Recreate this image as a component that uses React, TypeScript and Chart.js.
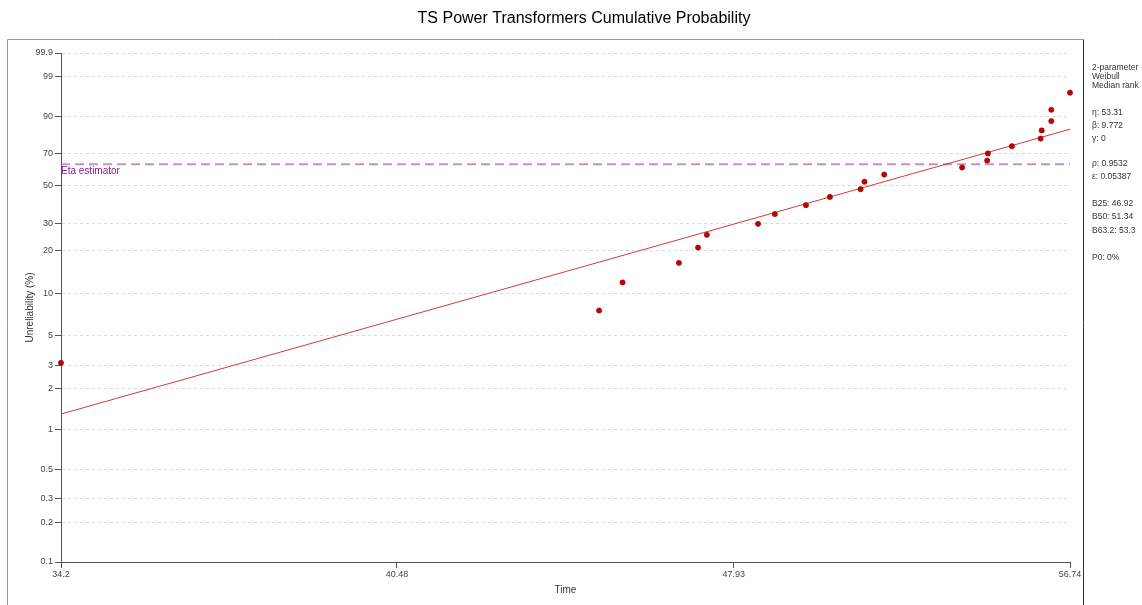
import React, { useEffect, useRef } from "react";
import { Chart, registerables } from "chart.js";

Chart.register(...registerables);

// Failure times (sorted) and their median-rank unreliability (%)
const times = [
  34.2, 44.8, 45.33, 46.63, 47.08, 47.29, 48.52, 48.93, 49.7, 50.3, 51.08,
  51.18, 51.69, 53.75, 54.43, 54.45, 55.11, 55.91, 55.94, 56.21, 56.21, 56.74,
];
const unreliabilityPct = [
  3.13, 7.59, 12.05, 16.52, 20.98, 25.45, 29.91, 34.38, 38.84, 43.3, 47.77,
  52.23, 56.7, 61.16, 65.63, 70.09, 74.55, 79.02, 83.48, 87.95, 92.41, 96.88,
];

// Axis ticks
const yTickPct = [0.1, 0.2, 0.3, 0.5, 1, 2, 3, 5, 10, 20, 30, 50, 70, 90, 99, 99.9];
const xTickValues = [34.2, 40.48, 47.93, 56.74];
const xTickLabels = ["34.2", "40.48", "47.93", "56.74"];

// Fit parameters (2-parameter Weibull)
const eta = 53.31;
const beta = 9.772;
const etaEstimatorPct = 63.2;

const infoLines = [
  { text: "2-parameter", y: 68 },
  { text: "Weibull", y: 77 },
  { text: "Median rank", y: 86 },
  { text: "η: 53.31", y: 113 },
  { text: "β: 9.772", y: 126 },
  { text: "γ: 0", y: 139 },
  { text: "ρ: 0.9532", y: 164 },
  { text: "ε: 0.05387", y: 177 },
  { text: "B25: 46.92", y: 204 },
  { text: "B50: 51.34", y: 217 },
  { text: "B63.2: 53.3", y: 231 },
  { text: "P0: 0%", y: 258 },
];

const FONT = "'Liberation Sans', Arial, sans-serif";

// Weibull probability-paper transform: ln(-ln(1 - F))
const weib = (pct: number) => Math.log(-Math.log(1 - pct / 100));
const fitW = (t: number) => beta * Math.log(t / eta);

const overlay = {
  id: "overlay",
  afterDraw(chart: Chart) {
    const { ctx, chartArea } = chart;
    ctx.save();

    // outer frame
    ctx.strokeStyle = "#9a9a9a";
    ctx.lineWidth = 1;
    ctx.beginPath();
    ctx.moveTo(7.5, 700);
    ctx.lineTo(7.5, 39.5);
    ctx.lineTo(1083.5, 39.5);
    ctx.stroke();
    ctx.strokeStyle = "#333";
    ctx.beginPath();
    ctx.moveTo(1083.5, 39.5);
    ctx.lineTo(1083.5, 700);
    ctx.stroke();

    // title
    ctx.fillStyle = "#000";
    ctx.font = `16px ${FONT}`;
    ctx.textAlign = "center";
    ctx.textBaseline = "alphabetic";
    ctx.fillText("TS Power Transformers Cumulative Probability", 584, 23);

    // axis titles
    ctx.fillStyle = "#333";
    ctx.font = `10px ${FONT}`;
    ctx.fillText("Time", (chartArea.left + chartArea.right) / 2, 593);
    ctx.save();
    ctx.translate(30, (chartArea.top + chartArea.bottom) / 2);
    ctx.rotate(-Math.PI / 2);
    ctx.textBaseline = "middle";
    ctx.fillText("Unreliability (%)", 0, 0);
    ctx.restore();

    // eta estimator label
    const yScale = chart.scales.y;
    const yEta = yScale.getPixelForValue(weib(etaEstimatorPct));
    ctx.fillStyle = "#8a1a8a";
    ctx.font = `10px ${FONT}`;
    ctx.textAlign = "left";
    ctx.textBaseline = "top";
    ctx.fillText("Eta estimator", chartArea.left, yEta + 2);

    // parameter block
    ctx.fillStyle = "#333";
    ctx.font = `8.5px ${FONT}`;
    ctx.textBaseline = "middle";
    infoLines.forEach((l) => ctx.fillText(l.text, 1092, l.y));

    ctx.restore();
  },
};

export default function App() {
  const ref = useRef<HTMLCanvasElement | null>(null);

  useEffect(() => {
    if (!ref.current) return;
    const xMin = xTickValues[0];
    const xMax = xTickValues[xTickValues.length - 1];

    const chart = new Chart(ref.current, {
      type: "scatter",
      data: {
        datasets: [
          {
            type: "line",
            label: "Eta estimator",
            data: [
              { x: xMin, y: weib(etaEstimatorPct) },
              { x: xMax, y: weib(etaEstimatorPct) },
            ],
            borderColor: "rgba(175, 100, 180, 0.7)",
            borderWidth: 2,
            borderDash: [9, 5],
            pointRadius: 0,
            order: 3,
          },
          {
            type: "line",
            label: "Fit",
            data: [
              { x: xMin, y: fitW(xMin) },
              { x: xMax, y: fitW(xMax) },
            ],
            borderColor: "#d23a3a",
            borderWidth: 1,
            pointRadius: 0,
            order: 2,
          },
          {
            label: "Data",
            data: times.map((t, i) => ({ x: t, y: weib(unreliabilityPct[i]) })),
            pointRadius: 2.6,
            pointBackgroundColor: "#c40000",
            pointBorderColor: "#7a0000",
            pointBorderWidth: 0.6,
            order: 1,
          },
        ],
      },
      options: {
        animation: false,
        responsive: false,
        devicePixelRatio: 1,
        clip: false,
        layout: { padding: { left: 0, top: 53, right: 72, bottom: 0 } },
        plugins: {
          legend: { display: false },
          title: { display: false },
          tooltip: { enabled: false },
        },
        scales: {
          x: {
            type: "logarithmic",
            min: xMin,
            max: xMax,
            afterBuildTicks: (scale: any) => {
              scale.ticks = xTickValues.map((v) => ({ value: v }));
            },
            afterFit: (scale: any) => {
              scale.height = 43;
            },
            ticks: {
              autoSkip: false,
              maxRotation: 0,
              padding: 1,
              color: "#444",
              font: { size: 9, family: FONT },
              callback: (_v: any, i: number) => xTickLabels[i],
            },
            grid: {
              drawOnChartArea: false,
              drawTicks: true,
              tickLength: 6,
              tickColor: "#555",
              tickWidth: 1,
            },
            border: { display: true, color: "#555", width: 1 },
          },
          y: {
            type: "linear",
            min: weib(0.1),
            max: weib(99.9),
            afterBuildTicks: (scale: any) => {
              scale.ticks = yTickPct.map((p) => ({ value: weib(p) }));
            },
            afterFit: (scale: any) => {
              scale.width = 61;
            },
            ticks: {
              autoSkip: false,
              padding: 2,
              color: "#444",
              font: { size: 9, family: FONT },
              callback: (_v: any, i: number) => String(yTickPct[i]),
            },
            grid: {
              drawOnChartArea: true,
              drawTicks: true,
              tickLength: 6,
              color: "#d9d9d9",
              lineWidth: 1,
              tickColor: "#555",
              tickWidth: 1,
            },
            border: { display: true, color: "#555", width: 1, dash: [3, 3] },
          },
        },
      },
      plugins: [overlay],
    } as any);

    return () => chart.destroy();
  }, []);

  return (
    <div style={{ position: "fixed", left: 0, top: 0, width: 1142, height: 605, background: "#fff" }}>
      <canvas ref={ref} width={1142} height={605} style={{ display: "block", width: 1142, height: 605 }} />
    </div>
  );
}
